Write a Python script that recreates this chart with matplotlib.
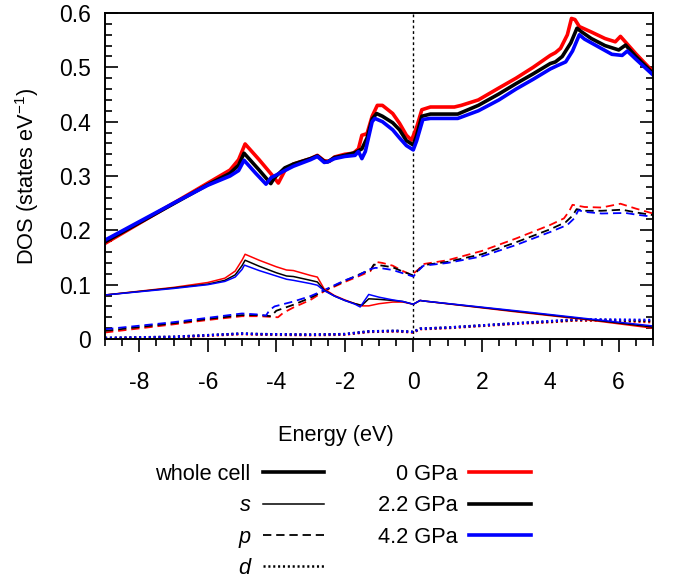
import matplotlib.pyplot as plt
from matplotlib.lines import Line2D
from matplotlib.ticker import MultipleLocator

plt.rcParams['font.family'] = 'Liberation Sans'
plt.rcParams['mathtext.default'] = 'regular'
plt.rcParams['axes.unicode_minus'] = False
plt.rcParams['lines.scale_dashes'] = False

# ---- total DOS (whole cell) ----
e_tot_0 = [-9, -8, -7, -6, -5.35, -5.1, -4.91, -4.5, -4.1, -3.94, -3.75, -3.5, -3.0, -2.8,
           -2.6, -2.45, -2.3, -2.0, -1.75, -1.6, -1.5, -1.35, -1.2, -1.05, -0.9, -0.6, -0.4,
           -0.2, -0.05, 0.1, 0.25, 0.5, 1.2, 1.4, 1.9, 2.5, 3.0, 3.5, 4.0, 4.15, 4.3, 4.5,
           4.62, 4.72, 4.85, 5.2, 5.6, 5.9, 6.05, 6.5, 7.0]
tot_0 = [0.176, 0.213, 0.250, 0.287, 0.311, 0.330, 0.359, 0.330, 0.300, 0.287, 0.310, 0.322,
         0.332, 0.338, 0.328, 0.327, 0.335, 0.340, 0.342, 0.350, 0.375, 0.378, 0.410, 0.430,
         0.430, 0.415, 0.397, 0.375, 0.366, 0.390, 0.422, 0.427, 0.427, 0.430, 0.440, 0.462,
         0.480, 0.500, 0.522, 0.527, 0.535, 0.560, 0.590, 0.588, 0.575, 0.565, 0.553, 0.547,
         0.557, 0.525, 0.492]

e_tot_22 = [-9, -8, -7, -6, -5.35, -5.1, -4.94, -4.5, -4.16, -4.05, -3.75, -3.5, -3.0, -2.8,
            -2.6, -2.5, -2.3, -2.0, -1.7, -1.5, -1.35, -1.2, -1.07, -0.9, -0.6, -0.4, -0.2,
            0.0, 0.1, 0.25, 0.5, 1.3, 1.9, 2.5, 3.0, 3.5, 4.0, 4.15, 4.35, 4.6, 4.78, 4.9,
            5.2, 5.6, 6.0, 6.2, 6.5, 7.0]
tot_22 = [0.179, 0.214, 0.249, 0.284, 0.305, 0.320, 0.342, 0.311, 0.286, 0.297, 0.315, 0.322,
          0.332, 0.337, 0.327, 0.326, 0.334, 0.338, 0.343, 0.350, 0.370, 0.405, 0.415, 0.410,
          0.398, 0.385, 0.365, 0.357, 0.375, 0.410, 0.414, 0.414, 0.430, 0.451, 0.470, 0.488,
          0.507, 0.510, 0.520, 0.545, 0.572, 0.566, 0.553, 0.540, 0.532, 0.541, 0.520, 0.489]

e_tot_42 = [-9, -8, -7, -6, -5.35, -5.1, -4.94, -4.6, -4.3, -4.15, -3.75, -3.5, -3.0, -2.8,
            -2.6, -2.5, -2.3, -2.0, -1.7, -1.6, -1.5, -1.4, -1.2, -1.12, -0.9, -0.6, -0.4,
            -0.2, 0.0, 0.1, 0.28, 0.5, 1.3, 1.9, 2.5, 3.0, 3.5, 4.0, 4.2, 4.45, 4.65, 4.85,
            5.0, 5.4, 5.8, 6.1, 6.25, 6.5, 7.0]
tot_42 = [0.182, 0.216, 0.250, 0.283, 0.300, 0.310, 0.329, 0.305, 0.285, 0.297, 0.310, 0.318,
          0.330, 0.336, 0.325, 0.326, 0.332, 0.336, 0.338, 0.345, 0.332, 0.345, 0.400, 0.406,
          0.400, 0.385, 0.370, 0.356, 0.348, 0.365, 0.404, 0.406, 0.406, 0.420, 0.440, 0.460,
          0.478, 0.497, 0.503, 0.510, 0.530, 0.560, 0.552, 0.538, 0.524, 0.522, 0.530, 0.515,
          0.486]

# ---- s projection ----
e_s = [-9, -7, -6, -5.5, -5.2, -5.0, -4.91, -4.5, -4.0, -3.7, -3.5, -3.0, -2.8, -2.6, -2.3,
       -2.0, -1.7, -1.5, -1.3, -1.0, -0.6, -0.3, 0.0, 0.2, 0.3, 3.0, 5.0, 7.0]
s_0 = [0.081, 0.095, 0.104, 0.112, 0.125, 0.145, 0.156, 0.145, 0.133, 0.127, 0.126, 0.117,
       0.114, 0.092, 0.080, 0.072, 0.065, 0.061, 0.061, 0.065, 0.068, 0.068, 0.064, 0.071,
       0.070, 0.050, 0.036, 0.020]
s_22 = [0.081, 0.094, 0.101, 0.108, 0.118, 0.135, 0.145, 0.134, 0.122, 0.116, 0.115, 0.108,
        0.105, 0.090, 0.079, 0.071, 0.065, 0.062, 0.074, 0.073, 0.071, 0.069, 0.064, 0.071,
        0.070, 0.051, 0.037, 0.022]
e_s_42 = [-9, -7, -6, -5.5, -5.2, -5.0, -4.93, -4.5, -4.0, -3.7, -3.5, -3.0, -2.8, -2.6, -2.3,
          -2.0, -1.7, -1.55, -1.3, -1.0, -0.6, -0.3, 0.0, 0.2, 0.3, 3.0, 5.0, 7.0]
s_42 = [0.081, 0.093, 0.100, 0.106, 0.114, 0.128, 0.136, 0.126, 0.116, 0.110, 0.108, 0.102,
        0.099, 0.089, 0.079, 0.071, 0.064, 0.059, 0.082, 0.077, 0.072, 0.069, 0.064, 0.071,
        0.070, 0.052, 0.038, 0.024]

# ---- p projection ----
e_p_0 = [-9, -7, -6, -5.0, -4.5, -3.95, -3.8, -3.5, -3.0, -2.6, -2.0, -1.5, -1.25, -1.1, -0.9,
         -0.6, -0.3, -0.05, 0.15, 0.3, 1.0, 2.0, 3.0, 4.0, 4.4, 4.55, 4.65, 5.0, 5.5, 6.05,
         6.5, 7.0]
p_0 = [0.012, 0.027, 0.035, 0.042, 0.042, 0.040, 0.048, 0.058, 0.072, 0.088, 0.105, 0.118,
       0.125, 0.142, 0.140, 0.135, 0.125, 0.118, 0.128, 0.138, 0.145, 0.162, 0.185, 0.210,
       0.222, 0.235, 0.247, 0.243, 0.242, 0.249, 0.240, 0.231]
e_p_22 = [-9, -7, -6, -5.0, -4.5, -4.15, -4.0, -3.5, -3.0, -2.6, -2.0, -1.5, -1.25, -1.15, -0.9,
          -0.6, -0.3, 0.0, 0.15, 0.3, 1.0, 2.0, 3.0, 4.0, 4.45, 4.65, 4.77, 5.0, 5.5, 6.1,
          6.5, 7.0]
p_22 = [0.015, 0.029, 0.037, 0.044, 0.044, 0.042, 0.052, 0.063, 0.076, 0.089, 0.107, 0.121,
        0.127, 0.137, 0.135, 0.132, 0.124, 0.117, 0.127, 0.136, 0.142, 0.156, 0.178, 0.202,
        0.215, 0.227, 0.239, 0.236, 0.236, 0.238, 0.233, 0.228]
e_p_42 = [-9, -7, -6, -5.0, -4.5, -4.3, -4.2, -4.05, -3.5, -3.0, -2.6, -2.0, -1.6, -1.3, -1.1,
          -0.9, -0.6, -0.3, 0.0, 0.15, 0.3, 1.0, 2.0, 3.0, 4.0, 4.5, 4.7, 4.82, 5.0, 5.5,
          6.2, 6.5, 7.0]
p_42 = [0.018, 0.031, 0.039, 0.047, 0.045, 0.043, 0.053, 0.060, 0.069, 0.079, 0.090, 0.108,
        0.117, 0.128, 0.131, 0.130, 0.127, 0.121, 0.115, 0.126, 0.135, 0.140, 0.152, 0.173,
        0.197, 0.210, 0.222, 0.237, 0.234, 0.231, 0.232, 0.229, 0.225]

# ---- d projection ----
e_d = [-9, -7, -5.0, -4.5, -3.0, -2.0, -1.3, -0.5, 0.0, 0.2, 1.0, 2.0, 3.0, 4.0, 4.7, 5.5, 7.0]
d_0 = [0.001, 0.003, 0.009, 0.008, 0.007, 0.008, 0.013, 0.014, 0.012, 0.018, 0.020, 0.024,
       0.028, 0.031, 0.034, 0.034, 0.031]
d_22 = [0.002, 0.004, 0.010, 0.009, 0.008, 0.009, 0.014, 0.015, 0.013, 0.019, 0.021, 0.025,
        0.029, 0.032, 0.035, 0.035, 0.033]
d_42 = [0.002, 0.004, 0.010, 0.009, 0.008, 0.009, 0.014, 0.015, 0.013, 0.019, 0.021, 0.025,
        0.029, 0.033, 0.036, 0.036, 0.035]

pressures = ['0 GPa', '2.2 GPa', '4.2 GPa']
colors = ['#ff0000', '#000000', '#0000ff']

fig = plt.figure(figsize=(6.75, 5.81), dpi=100)
ax = fig.add_axes([0.1556, 0.4165, 0.8118, 0.5611])

ax.axvline(0, color='black', lw=1.0, ls=(0, (2.0, 2.0)), zorder=1)

# d first (lowest), then p, s, whole cell on top
for e, d, c in zip([e_d, e_d, e_d], [d_0, d_22, d_42], colors):
    ax.plot(e, d, color=c, lw=1.8, ls=(0, (1.5, 2.0)))
for e, p, c in zip([e_p_0, e_p_22, e_p_42], [p_0, p_22, p_42], colors):
    ax.plot(e, p, color=c, lw=1.3, ls=(0, (6.0, 3.5)))
for e, s, c in zip([e_s, e_s, e_s_42], [s_0, s_22, s_42], colors):
    ax.plot(e, s, color=c, lw=1.1)
for e, t, c in zip([e_tot_0, e_tot_22, e_tot_42], [tot_0, tot_22, tot_42], colors):
    ax.plot(e, t, color=c, lw=2.6, solid_joinstyle='round')

ax.set_xlim(-9, 7)
ax.set_ylim(0, 0.6)
ax.set_xticks(range(-8, 7, 2))
ax.set_xticklabels([str(v) for v in range(-8, 7, 2)])
ax.set_yticks([0, 0.1, 0.2, 0.3, 0.4, 0.5, 0.6])
ax.set_yticklabels(['0', '0.1', '0.2', '0.3', '0.4', '0.5', '0.6'])
ax.xaxis.set_minor_locator(MultipleLocator(0.5))
ax.yaxis.set_minor_locator(MultipleLocator(0.02))

ax.tick_params(axis='x', which='both', direction='out', top=False, labelsize=16.5,
               width=1.2, pad=14)
ax.tick_params(axis='x', which='major', length=9)
ax.tick_params(axis='x', which='minor', length=5)
ax.tick_params(axis='y', which='both', direction='in', right=True, labelsize=16.5,
               width=1.2, pad=10)
ax.tick_params(axis='y', which='major', length=9.5)
ax.tick_params(axis='y', which='minor', length=4.8)
for sp in ax.spines.values():
    sp.set_linewidth(1.4)

ax.set_ylabel('DOS (states eV$^{-1}$)', fontsize=15.7)
ax.yaxis.set_label_coords(-0.117, 0.5)
fig.text(0.497, 0.2496, 'Energy (eV)', ha='center', va='center', fontsize=15.7)

# legends: projection styles on the left, pressures on the right
h_style = [Line2D([], [], color='black', lw=2.6),
           Line2D([], [], color='black', lw=1.1),
           Line2D([], [], color='black', lw=1.3, ls=(0, (6.0, 3.5))),
           Line2D([], [], color='black', lw=1.8, ls=(0, (1.5, 2.0)))]
leg1 = fig.legend(h_style, ['whole cell', 's', 'p', 'd'], loc='upper right',
                  bbox_to_anchor=(324 / 675, 0.2019), frameon=False, markerfirst=False,
                  handlelength=2.81, handletextpad=0.55, labelspacing=0.48,
                  borderpad=0, borderaxespad=0, fontsize=15.7)
for t in leg1.get_texts()[1:]:
    t.set_fontstyle('italic')

h_press = [Line2D([], [], color=c, lw=2.6) for c in colors]
fig.legend(h_press, pressures, loc='upper right',
           bbox_to_anchor=(530.7 / 675, 0.2019), frameon=False, markerfirst=False,
           handlelength=2.81, handletextpad=0.55, labelspacing=0.48,
           borderpad=0, borderaxespad=0, fontsize=15.7)

fig.savefig('out.png', dpi=100)
